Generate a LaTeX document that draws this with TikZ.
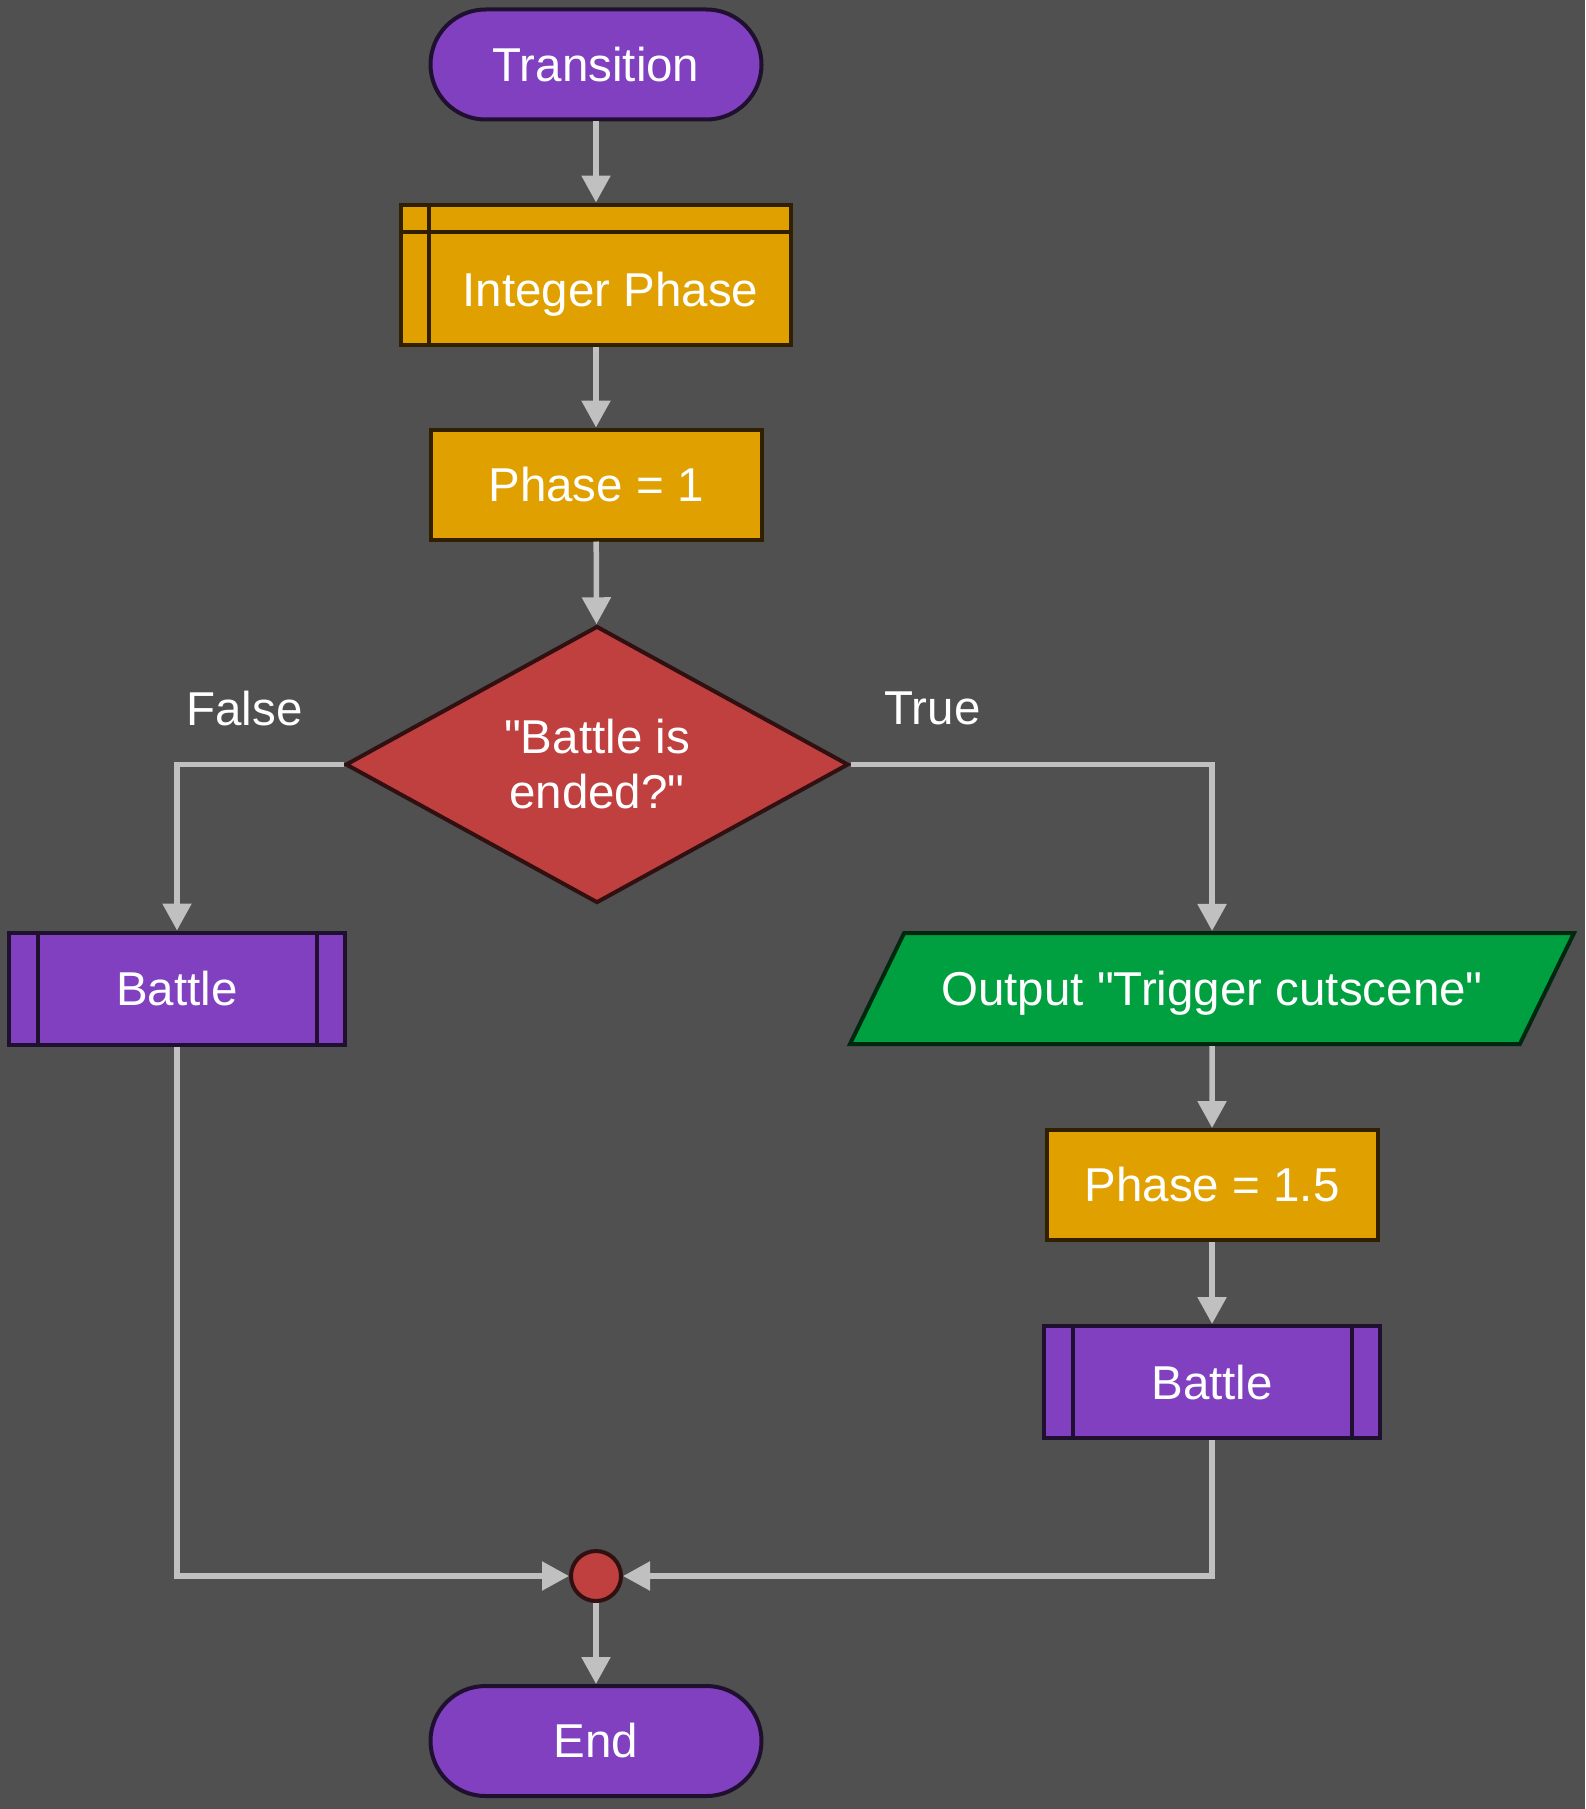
\documentclass[tikz,border=0pt]{standalone}
\usepackage{fontspec}
\setmainfont{Liberation Sans}[Ligatures=TeXOff]
\usetikzlibrary{arrows.meta,positioning,calc,shapes.geometric}
\definecolor{canvasGray}{RGB}{80, 80, 80}
\definecolor{linkGray}{RGB}{192, 192, 192}
\definecolor{termPurple}{RGB}{128, 64, 192}
\definecolor{purpleEdge}{RGB}{32, 16, 48}
\definecolor{varGold}{RGB}{224, 160, 0}
\definecolor{goldEdge}{RGB}{48, 32, 0}
\definecolor{askRed}{RGB}{192, 64, 64}
\definecolor{redEdge}{RGB}{48, 16, 16}
\definecolor{outGreen}{RGB}{0, 160, 64}
\definecolor{greenEdge}{RGB}{0, 40, 16}

\tikzset{
  flowbase/.style={draw, line width=4pt, text=white, inner sep=0pt, font=\fontsize{47.5pt}{55pt}\selectfont},
  termbox/.style={flowbase, fill=termPurple, draw=purpleEdge, rounded corners=55pt, minimum width=331pt, minimum height=110pt},
  procbox/.style={flowbase, fill=varGold, draw=goldEdge, minimum width=331pt, minimum height=110pt},
  declbox/.style={flowbase, fill=varGold, draw=goldEdge, minimum width=390pt, minimum height=140pt,
    path picture={
      \draw[goldEdge, line width=4pt] ([xshift=27.5pt]path picture bounding box.north west) -- ([xshift=27.5pt]path picture bounding box.south west);
      \draw[goldEdge, line width=4pt] ([yshift=-27.5pt]path picture bounding box.north west) -- ([yshift=-27.5pt]path picture bounding box.north east);
    }},
  subbox/.style={flowbase, fill=termPurple, draw=purpleEdge, minimum width=336pt, minimum height=112pt,
    path picture={
      \draw[purpleEdge, line width=4pt] ([xshift=28.5pt]path picture bounding box.north west) -- ([xshift=28.5pt]path picture bounding box.south west);
      \draw[purpleEdge, line width=4pt] ([xshift=-28.5pt]path picture bounding box.north east) -- ([xshift=-28.5pt]path picture bounding box.south east);
    }},
  askbox/.style={flowbase, diamond, fill=askRed, draw=redEdge, align=center, aspect=1.82, minimum width=503pt, minimum height=277pt},
  outbox/.style={flowbase, trapezium, trapezium left angle=64, trapezium right angle=116, trapezium stretches body,
    text height=40pt, text depth=6pt, inner ysep=32.5pt,
    fill=outGreen, draw=greenEdge, minimum width=724pt, minimum height=111pt},
  joinbox/.style={flowbase, circle, fill=askRed, draw=redEdge, minimum size=50pt},
  flowarrow/.style={-{Triangle[length=27pt, width=28pt]}, line width=5.5pt, color=linkGray},
  branchtext/.style={text=white, font=\fontsize{47.5pt}{55pt}\selectfont}
}

\begin{document}
\begin{tikzpicture}[x=1pt, y=1pt, node distance=81pt]
  \fill[canvasGray] (0,0) rectangle (1585,-1809);
  \useasboundingbox (0,0) rectangle (1585,-1809);

  \node (transition) [termbox] at (596,-64.5) {Transition};
  \node (intPhase) [declbox, below=of transition, text height=73pt, text depth=10pt] {\hspace*{29pt}Integer Phase};
  \node (phaseOne) [procbox, below=of intPhase] {Phase = 1};
  \node (decision) [askbox] at (597,-764.5) {"Battle is\\ended?"};

  \node (battleA) [subbox] at (177,-988.5) {Battle};
  \node (output) [outbox] at (1212,-988.5) {Output "Trigger cutscene"};
  \node (phaseHalf) [procbox, below=82pt of output] {Phase = 1.5};
  \node (battleB) [subbox, below=82pt of phaseHalf] {Battle};

  \node (merge) [joinbox] at (596,-1576) {};
  \node (finish) [termbox, below=of merge] {End};

  \node (falseLabel) [branchtext] at ($(decision.west)+(-99,56)$) {False};
  \node (trueLabel) [branchtext] at ($(decision.east)+(82,56)$) {True};

  \draw[flowarrow] (transition) -- (intPhase);
  \draw[flowarrow] (intPhase) -- (phaseOne);
  \draw[flowarrow] (phaseOne) -- (decision);
  \draw[flowarrow] (decision.west) -| (battleA.north);
  \draw[flowarrow] (decision.east) -| (output.north);
  \draw[flowarrow] (output) -- (phaseHalf);
  \draw[flowarrow] (phaseHalf) -- (battleB);
  \draw[flowarrow] (battleA.south) |- (merge.west);
  \draw[flowarrow] (battleB.south) |- (merge.east);
  \draw[flowarrow] (merge) -- (finish);
\end{tikzpicture}
\end{document}
